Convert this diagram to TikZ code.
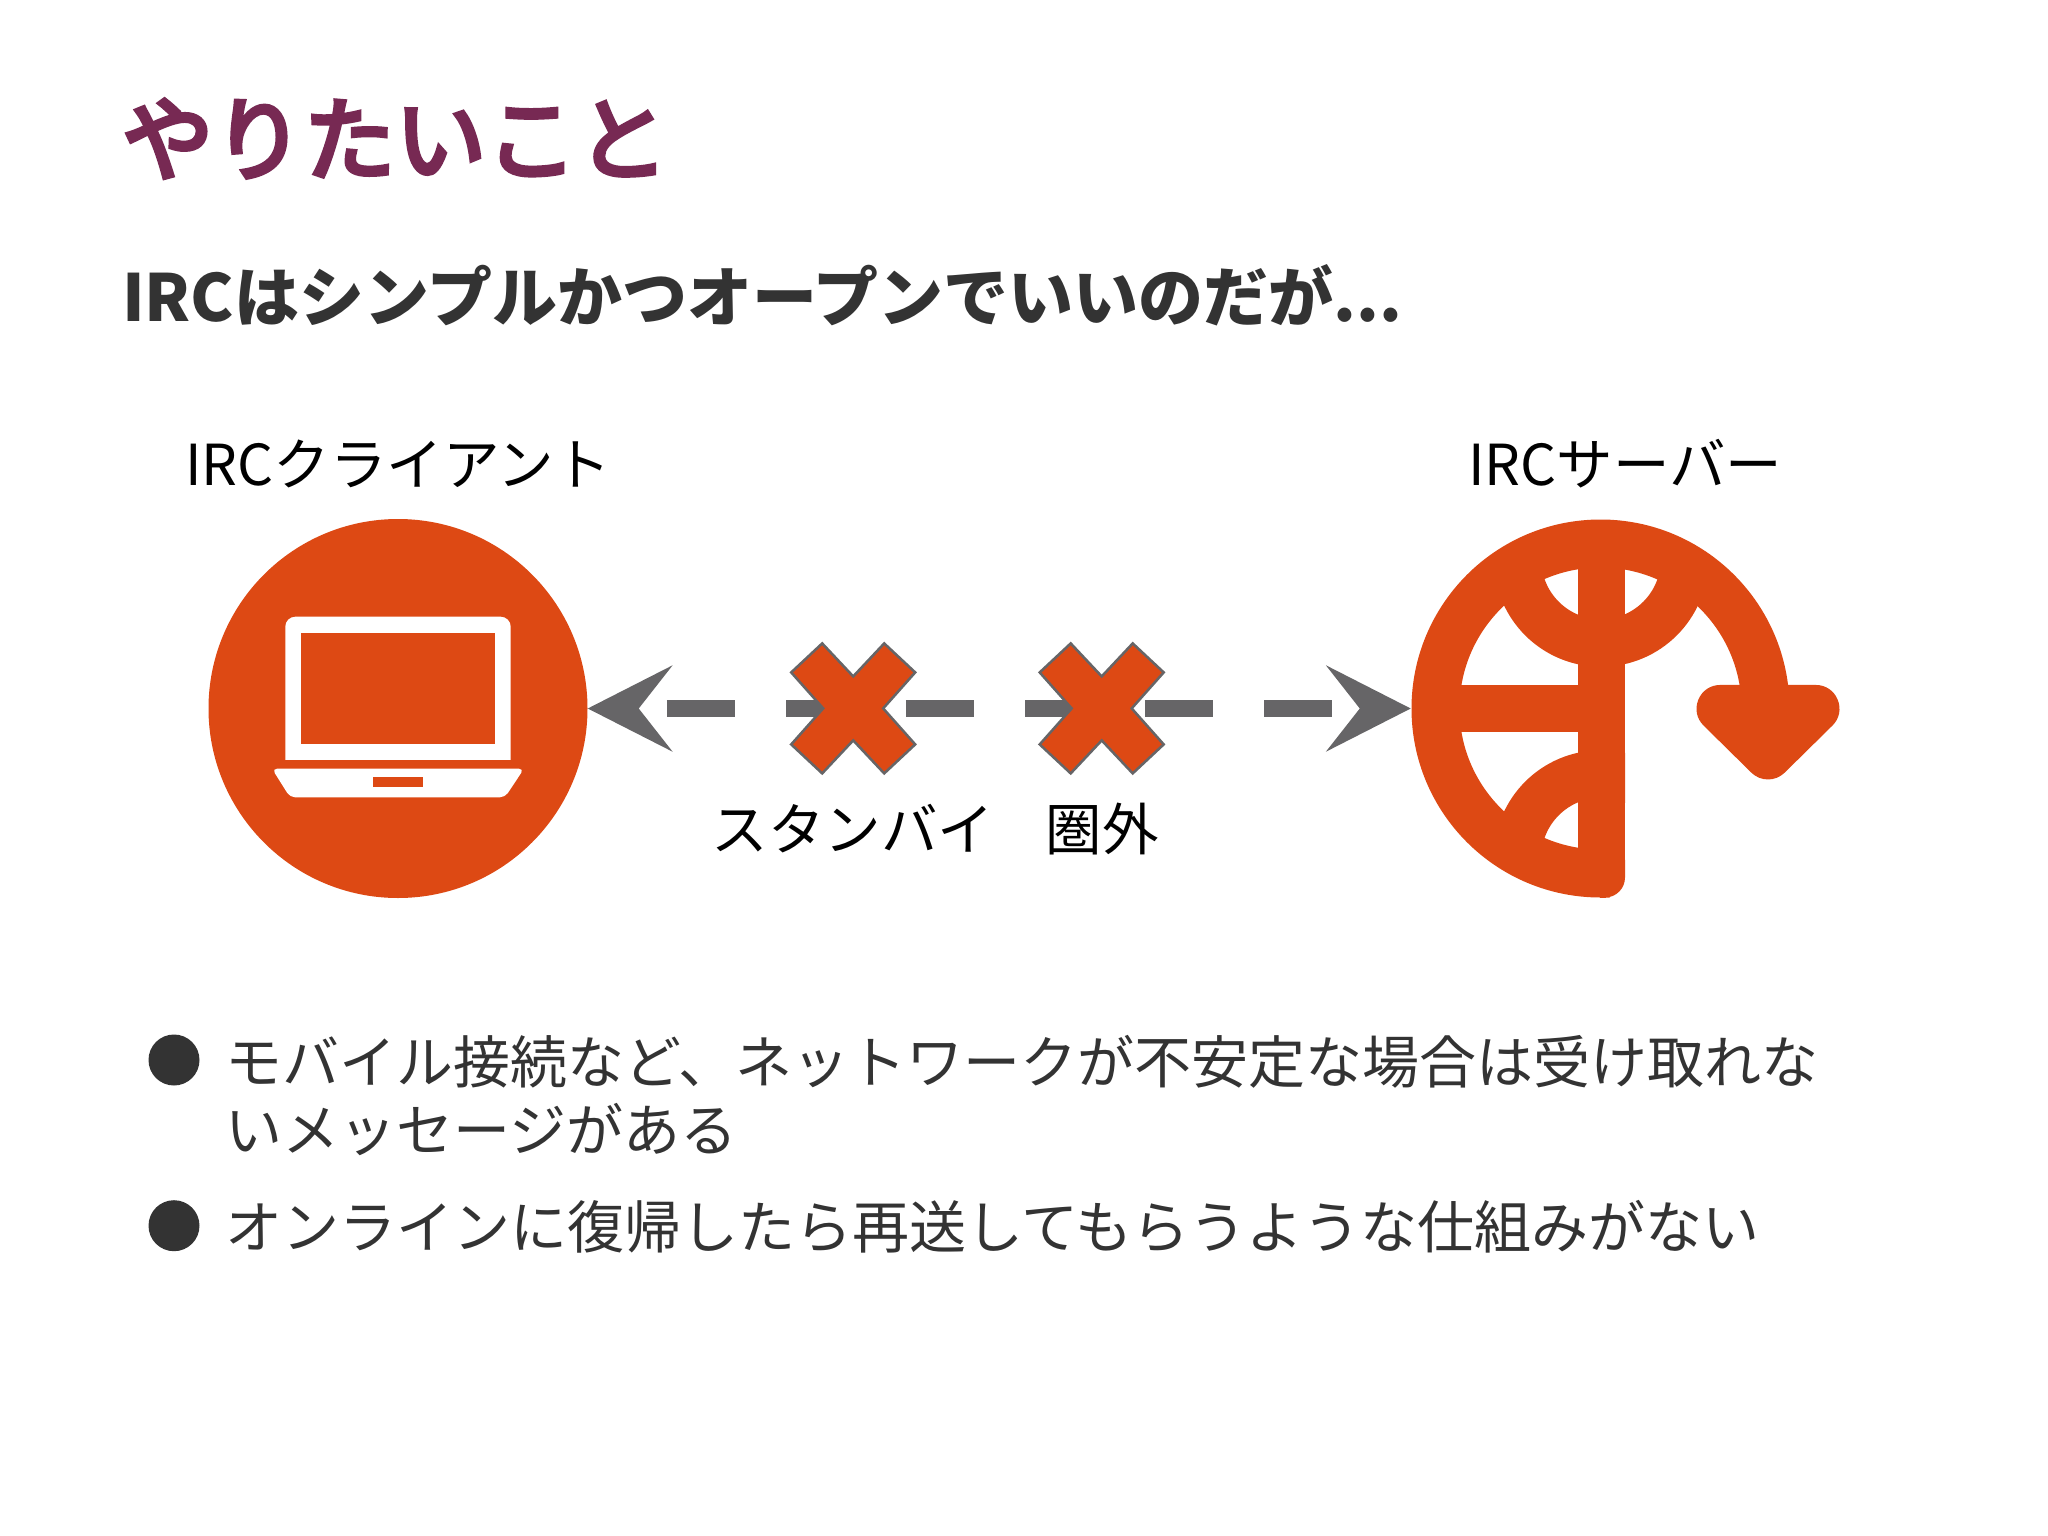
\documentclass[tikz,border=0pt]{standalone}
\usepackage{fontspec}
\usetikzlibrary{arrows.meta}
\setmainfont{Noto Sans CJK JP}
\newfontfamily\titlefont[FakeBold=5]{Noto Sans CJK JP}
\definecolor{ubo}{HTML}{DD4914}
\definecolor{aub}{HTML}{772953}
\definecolor{gry}{HTML}{666567}
\definecolor{ink}{HTML}{333333}
\tikzset{
  titletext/.style={anchor=base west,inner sep=0,text=aub,font=\titlefont\fontsize{91}{91}\selectfont},
  subtext/.style={anchor=base west,inner sep=0,text=ink,font=\fontsize{65}{65}\selectfont\bfseries},
  labeltext/.style={anchor=base,inner sep=0,text=black,font=\fontsize{56.5}{57}\selectfont},
  bodytext/.style={anchor=base west,inner sep=0,text=ink,font=\fontsize{57}{57}\selectfont},
  bulletdot/.style={circle,fill=ink,inner sep=0,minimum size=51pt},
  ring/.style={draw=ubo,line width=47.5pt,line cap=butt},
  crossmark/.style={fill=ubo,draw=gry,line width=2.5pt,line join=miter},
  link/.style={draw=gry,line width=17.7pt,dash pattern=on 68pt off 51.5pt,dash phase=86.5pt,
    {Stealth[length=84pt,width=85pt,inset=33pt,color=gry]}-{Stealth[length=84pt,width=85pt,inset=33pt,color=gry]}},
}
\begin{document}
\begin{tikzpicture}[x=1pt,y=-1pt]
\useasboundingbox[fill=white] (0,0) rectangle (2048,1536);
\node[titletext] (title) at (122,173) {やりたいこと};
\node[subtext] (sub) at (122,321.5) {IRCはシンプルかつオープンでいいのだが...};
\node[labeltext] (clabel) at (398,485) {IRCクライアント};
\node[labeltext] (slabel) at (1625,485) {IRCサーバー};
% client
\node[circle,fill=ubo,inner sep=0,minimum size=379pt] (client) at (398,708.5) {};
\fill[white,rounded corners=10pt] (285.3,770) -- (285.3,616.7) -- (510.7,616.7) -- (510.7,770) -- cycle;
\fill[ubo] (280,759.7) rectangle (516,775);
\fill[ubo] (301.3,632.7) rectangle (494.7,744.3);
\fill[white,rounded corners=5pt] (272,768.7) -- (524,768.7) -- (505,797.3) -- (290,797.3) -- cycle;
\fill[ubo] (373.3,777) rectangle (422.7,787.3);
% server
\node[circle,inner sep=0,minimum size=379pt] (server) at (1600.5,708.5) {};
\begin{scope}
\clip (1600.5,708.5) circle[radius=170];
\begin{scope}
\clip (1400,500) rectangle (1625,920);
\draw[ring] (1601,857.5) circle[radius=83.5];
\end{scope}
\clip (1400,560) rectangle (1800,690);
\draw[ring] (1601,559.5) circle[radius=83.5];
\end{scope}
\draw[ring,line width=48pt] (1765.5,708.5) arc[start angle=0,end angle=-270,radius=165];
\draw[ring] (1440,708.5) -- (1601,708.5);
\fill[ubo] (1577.7,530) rectangle (1625,860);
\fill[ubo,rounded corners=20pt] (1590,840) -- (1625,840) -- (1625,897.5) -- (1590,897.5) -- cycle;
\fill[ubo] (1577.7,850) rectangle (1600.5,880);
\fill[ubo] (1600,850) rectangle (1606,897.5);
\draw[ubo,fill=ubo,line width=47.5pt,line join=round] (1720.3,708.7) -- (1815.7,708.7) -- (1768,755.7) -- cycle;
% connector
\draw[link] (client.east) -- (server.west);
% crosses
\foreach \n/\cx in {a/853.2,b/1101.7}{
\draw[crossmark,shift={(\cx,708.4)}] (-31,-65) -- (0,-32) -- (31,-65) -- (62,-36) -- (30,0) -- (62,36) -- (31,65) -- (0,32) -- (-31,65) -- (-62,36) -- (-30,0) -- (-62,-36) -- cycle;
}
\node[labeltext] (stby) at (853,850) {スタンバイ};
\node[labeltext] (oos) at (1102,850) {圏外};
% bullets
\node[bulletdot] (b1) at (174,1060) {};
\node[bulletdot] (b2) at (174,1225.7) {};
\node[bodytext] (l1) at (225,1083.5) {モバイル接続など、ネットワークが不安定な場合は受け取れな};
\node[bodytext] (l2) at (225,1151.5) {いメッセージがある};
\node[bodytext] (l3) at (225,1248.5) {オンラインに復帰したら再送してもらうような仕組みがない};
\end{tikzpicture}
\end{document}
